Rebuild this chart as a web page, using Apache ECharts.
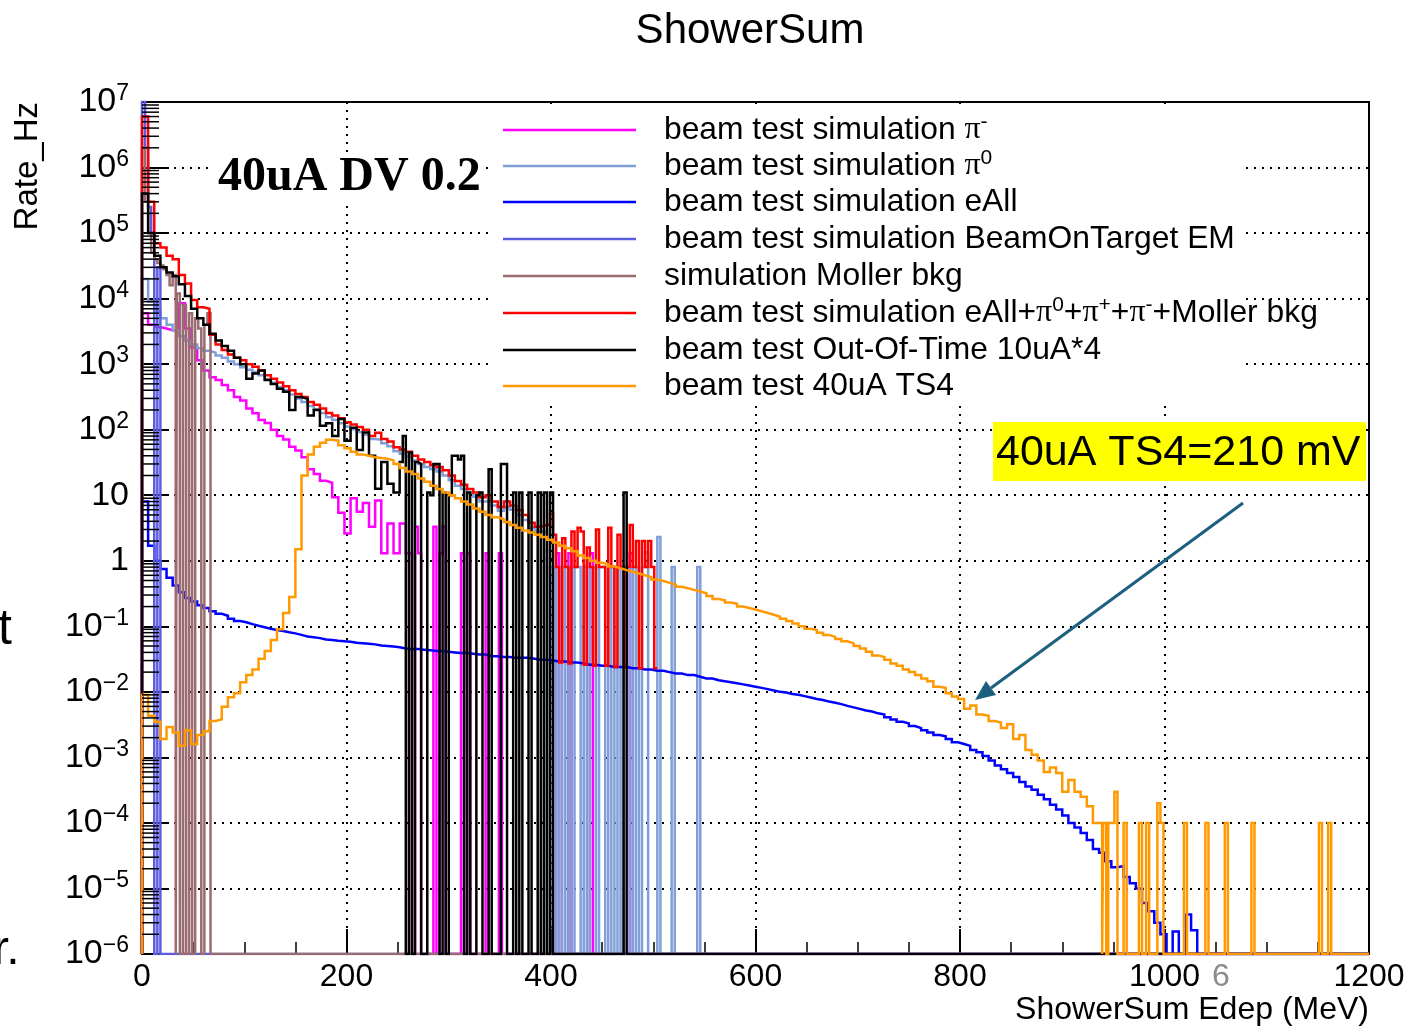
<!DOCTYPE html>
<html>
<head>
<meta charset="utf-8">
<script src="https://cdn.jsdelivr.net/npm/echarts@6/dist/echarts.min.js"></script>
<style>
  html, body { margin: 0; padding: 0; background: #ffffff; }
  #chart { width: 1408px; height: 1026px; }
</style>
</head>
<body>
<div id="chart"></div>
<script>
// ================= DATA =================
// x: ShowerSum Edep (MeV); y: Rate (Hz), log scale
const xRange = [0, 1200];
const xTickStep = 200;
const yRange = [1e-6, 1e7];

const DENSE_WIDTH = 6;   // MeV, bin width of the continuous parts
const SPARSE_WIDTH = 3;  // MeV, bin width of isolated / spiky bins

const seriesNames = [
  'beam test simulation \u03c0-',
  'beam test simulation \u03c00',
  'beam test simulation eAll',
  'beam test simulation BeamOnTarget EM',
  'simulation Moller bkg',
  'beam test simulation eAll+\u03c00+\u03c0++\u03c0-+Moller bkg',
  'beam test Out-Of-Time 10uA*4',
  'beam test 40uA TS4'
];

// pi- (dense bins from 0 MeV, then isolated bins [lowEdge, rate])
const piMinusDense = [6e3, 4e3, 3.7e3, 3.5e3, 3.3e3, 3.3e3, 8.5e3, 3.5e3, 1.8e3, 1.15e3,
  800, 630, 575, 480, 400, 316, 280, 210, 178, 141,
  126, 100, 80, 71, 55, 48, 38, 25, 21, 16.6,
  15.5, 9.3, 5.4, 2.6, 9, 5.6, 7.6, 3.3, 8.3, 1.3,
  3.7, 1.3, 3.7, 1.3];
const piMinusSparse = [[267, 3.3], [270, 1.3], [285, 3.3], [291, 1.3], [294, 3.3], [312, 1.3], [318, 1.3],
  [336, 1.3], [349, 1.3], [405, 1.3], [417, 1.3], [438, 1.3], [477, 1.3]];

// pi0
const piZeroDense = [2e4, 9e3, 6.3e3, 5e3, 4e3, 3.3e3, 2.7e3, 2.3e3, 2e3, 1.75e3,
  1.6e3, 1.5e3, 1.35e3, 1.25e3, 1.1e3, 1e3, 900, 820, 760, 680,
  590, 520, 450, 400, 345, 300, 265, 230, 205, 180,
  155, 140, 125, 112, 102, 92, 84, 72, 70, 62,
  56, 47, 43, 39, 34, 30, 27, 25, 23, 20,
  17, 14, 12.5, 11, 9.5, 8, 8, 7, 5.8, 6.6,
  6, 5, 4.2, 3.2, 2.8, 2.8];
const piZeroSparse = [[399, 0.8], [405, 0.8], [411, 0.8], [417, 0.8], [423, 0.8], [426, 0.8], [432, 0.8],
  [438, 0.8], [441, 0.8], [447, 0.8], [450, 0.8], [456, 0.8], [462, 0.8], [468, 0.8], [477, 0.8],
  [483, 0.8], [489, 0.8], [492, 1.35], [504, 2.3], [518, 0.8], [543, 0.8]];

// eAll
const eAllDense = [8, 1.7, 1.0, 0.75, 0.55, 0.42, 0.33, 0.27, 0.24, 0.21,
  0.19, 0.17, 0.155, 0.145, 0.13, 0.12, 0.115, 0.108, 0.102, 0.097,
  0.092, 0.088, 0.085, 0.081, 0.078, 0.074, 0.07, 0.068, 0.066, 0.063,
  0.062, 0.06, 0.059, 0.058, 0.056, 0.055, 0.054, 0.053, 0.051, 0.05,
  0.049, 0.048, 0.046, 0.045, 0.045, 0.044, 0.043, 0.042, 0.042, 0.041,
  0.04, 0.039, 0.039, 0.038, 0.037, 0.037, 0.035, 0.035, 0.034, 0.034,
  0.033, 0.033, 0.033, 0.032, 0.031, 0.031, 0.03, 0.029, 0.029, 0.028,
  0.028, 0.027, 0.026, 0.026, 0.025, 0.025, 0.024, 0.024, 0.024, 0.023,
  0.023, 0.022, 0.022, 0.021, 0.021, 0.02, 0.019, 0.019, 0.018, 0.018,
  0.017, 0.016, 0.016, 0.015, 0.0145, 0.014, 0.0135, 0.013, 0.0125, 0.012,
  0.0115, 0.011, 0.0105, 0.01, 0.0098, 0.0093, 0.009, 0.0086, 0.0082, 0.0078,
  0.0075, 0.0071, 0.0068, 0.0065, 0.0061, 0.0058, 0.0055, 0.0052, 0.005, 0.0047,
  0.0045, 0.0041, 0.0038, 0.0035, 0.0033, 0.003, 0.0028, 0.0026, 0.0024, 0.0022,
  0.0021, 0.0019, 0.0017, 0.0016, 0.0015, 0.0013, 0.0012, 0.00105, 0.0009, 0.00075,
  0.00066, 0.00058, 0.0005, 0.00042, 0.00036, 0.00032, 0.00027, 0.00023, 0.00019, 0.00016,
  0.00013, 0.0001, 8.5e-5, 7e-5, 5.5e-5, 4e-5, 3.5e-5, 2.6e-5, 2.1e-5, 2.2e-5,
  1.5e-5, 1.2e-5, 1e-5, 6e-6, 4.5e-6, 3e-6, 2e-6, 0, 2.2e-6, 0,
  4e-6, 2.3e-6];

// BeamOnTarget EM
const botSparse = [[0, 1.5e7], [3, 2e6], [6, 2.5e5], [9, 1e5], [15, 3e4]];

// Moller bkg
const mollerSparse = [[0, 2e6], [3, 3e5], [6, 1e5], [9, 5e4], [12, 4e4], [15, 3.5e4], [18, 3.2e4],
  [21, 2.8e4], [24, 2.3e4], [27, 1.6e4], [30, 2.3e4], [34, 1.2e4], [40, 8e3], [46, 6e3],
  [52, 5e3], [55, 3.5e3], [61, 4e3], [64, 6e3]];

// sum eAll+pi0+pi+ +pi- +Moller
const sumDense = [6e6, 3e5, 7e4, 6e4, 4.5e4, 4e4, 2.3e4, 1.7e4, 9.5e3, 7.4e3,
  7e3, 2.8e3, 2e3, 1.65e3, 1.4e3, 1.25e3, 1.15e3, 1e3, 910, 800,
  680, 600, 525, 460, 400, 350, 315, 265, 240, 210,
  180, 165, 150, 130, 120, 110, 100, 80, 90, 72,
  66, 54, 50, 46, 40, 35, 32, 29, 27, 24,
  20, 16.5, 14.5, 12.5, 11, 9.3, 10, 8, 6.6, 8,
  7, 5.9, 5, 3.8, 3.3, 3.5];
const sumSparse = [[396, 3.5], [399, 5.2], [402, 2.5], [405, 0.8], [408, 0.028], [411, 2.2], [414, 0.8],
  [417, 0.027], [420, 2.8], [423, 0.8], [426, 3.2], [429, 2.8], [432, 0.026], [435, 1.6], [438, 0.8],
  [441, 0.025], [444, 3.0], [447, 0.8], [450, 0.8], [453, 0.025], [456, 3.2], [459, 0.8], [462, 0.024],
  [465, 2.5], [468, 0.8], [471, 0.024], [474, 0.8], [477, 3.5], [480, 0.8], [483, 2.0], [486, 0.023],
  [489, 2.0], [492, 0.8], [495, 2.0], [498, 0.8], [501, 0.023]];

// Out-Of-Time 10uA*4
const ootDense = [4e5, 1e5, 4.5e4, 3e4, 2.5e4, 2.2e4, 1.65e4, 1.1e4, 7e3, 5e3,
  4e3, 2.9e3, 2.3e3, 1.9e3, 1.6e3, 1.25e3, 1e3, 600, 720, 800,
  575, 500, 420, 380, 200, 316, 295, 165, 200, 115,
  125, 80, 145, 68, 107, 49, 91, 40, 12.6, 32, 15];
const ootSparse = [[246, 11], [249, 11], [252, 32], [255, 80], [261, 45], [267, 32], [270, 30],
  [279, 11], [282, 10], [285, 30], [288, 30], [294, 11], [300, 10], [303, 40], [306, 40], [309, 35],
  [312, 40], [318, 11], [327, 10], [330, 11], [339, 25], [351, 30], [354, 30], [363, 11], [369, 11],
  [378, 11], [387, 11], [393, 11], [399, 11], [471, 11]];

// 40uA TS4
const ts4Dense = [9e-3, 4.3e-3, 3.5e-3, 1.9e-3, 2.9e-3, 2.4e-3, 1.5e-3, 2.6e-3, 1.6e-3, 2.2e-3,
  2.5e-3, 3.6e-3, 3.8e-3, 5.9e-3, 8.3e-3, 9.5e-3, 0.014, 0.018, 0.022, 0.032,
  0.042, 0.062, 0.09, 0.16, 0.28, 1.5, 20, 42, 55, 63,
  70, 68, 58, 52, 46, 42, 40, 38, 37, 36,
  34, 30, 26, 23, 21, 18, 16, 14, 12.5, 11,
  10, 9, 8, 7.2, 6.3, 5.6, 5.0, 4.6, 4.3, 3.9,
  3.5, 3.2, 2.9, 2.7, 2.5, 2.3, 2.1, 1.9, 1.7, 1.55,
  1.4, 1.2, 1.1, 1.0, 0.93, 0.88, 0.82, 0.77, 0.72, 0.68,
  0.64, 0.6, 0.56, 0.52, 0.49, 0.46, 0.43, 0.4, 0.38, 0.36,
  0.34, 0.32, 0.29, 0.26, 0.25, 0.23, 0.22, 0.2, 0.19, 0.18,
  0.17, 0.16, 0.15, 0.14, 0.13, 0.12, 0.11, 0.10, 0.092, 0.088,
  0.08, 0.074, 0.069, 0.064, 0.059, 0.055, 0.05, 0.046, 0.041, 0.036,
  0.034, 0.031, 0.027, 0.025, 0.022, 0.02, 0.018, 0.016, 0.0145, 0.012,
  0.0115, 0.0095, 0.0085, 0.0078, 0.0055, 0.0062, 0.0045, 0.0043, 0.0036, 0.0034,
  0.0028, 0.0032, 0.0019, 0.0022, 0.0013, 0.0011, 0.0009, 0.0006, 0.0007, 0.00058,
  0.0003, 0.00045, 0.0003, 0.00025, 0.00018, 0.0001];
const ts4Sparse = [[936, 1e-4], [940, 1e-4], [945, 1e-4], [948, 1e-4], [951, 3e-4], [960, 1e-4],
  [975, 1e-4], [982, 1e-4], [993, 2e-4], [996, 1e-4], [1019, 1e-4], [1040, 1e-4], [1059, 1e-4],
  [1085, 1e-4], [1151, 1e-4], [1160, 1e-4]];

// ================= helpers (turn bins into a ROOT-like outline) =================
const FLOOR = yRange[0];
function denseBins(start, width, values) {
  return values.map((v, i) => [start + i * width, start + (i + 1) * width, v]);
}
function sparseBins(width, pairs) {
  return pairs.map(p => [p[0], p[0] + width, p[1]]);
}
function stepPath(bins, dropAtEnd) {
  const b = bins.slice().sort((p, q) => p[0] - q[0]);
  const pts = [[xRange[0], FLOOR]];
  let prevHi = xRange[0];
  b.forEach(([lo, hi, v0]) => {
    const v = v0 > FLOOR ? v0 : FLOOR;
    if (lo > prevHi + 1e-9) { pts.push([prevHi, FLOOR]); pts.push([lo, FLOOR]); }
    pts.push([lo, v]); pts.push([hi, v]);
    prevHi = hi;
  });
  if (dropAtEnd) { pts.push([prevHi, FLOOR]); pts.push([xRange[1], FLOOR]); }
  return pts;
}

const colors = ['#ff00ff', '#7f9fd8', '#0000ff', '#5c5ce0', '#9a6b70', '#ff0000', '#000000', '#ff9900'];
const paths = [
  stepPath(denseBins(0, DENSE_WIDTH, piMinusDense).concat(sparseBins(SPARSE_WIDTH, piMinusSparse)), true),
  stepPath(denseBins(0, DENSE_WIDTH, piZeroDense).concat(sparseBins(SPARSE_WIDTH, piZeroSparse)), true),
  stepPath(denseBins(0, DENSE_WIDTH, eAllDense), true),
  stepPath(sparseBins(SPARSE_WIDTH, botSparse), true),
  stepPath(sparseBins(SPARSE_WIDTH, mollerSparse), true),
  stepPath(denseBins(0, DENSE_WIDTH, sumDense).concat(sparseBins(SPARSE_WIDTH, sumSparse)), false),
  stepPath(denseBins(0, DENSE_WIDTH, ootDense).concat(sparseBins(SPARSE_WIDTH, ootSparse)), true),
  stepPath(denseBins(0, DENSE_WIDTH, ts4Dense).concat(sparseBins(SPARSE_WIDTH, ts4Sparse)), true)
];

// log-axis minor tick values (2..9 x 10^n), ROOT style
const minorTickValues = [];
for (let e = -6; e < 7; e++) for (let k = 2; k <= 9; k++) minorTickValues.push(k * Math.pow(10, e));

const SANS = '"Liberation Sans", Arial, Helvetica, sans-serif';
const SERIF = '"Liberation Serif", "Times New Roman", serif';

// ================= chart =================
const chart = echarts.init(document.getElementById('chart'), null, { renderer: 'canvas' });

const series = paths.map((p, i) => ({
  type: 'line',
  name: seriesNames[i],
  data: p,
  showSymbol: false,
  symbol: 'none',
  clip: true,
  animation: false,
  z: 2,
  lineStyle: { color: colors[i], width: 2.5, join: 'miter', cap: 'butt' }
}));
series.push({
  type: 'custom',
  name: 'minorTicks',
  coordinateSystem: 'cartesian2d',
  silent: true,
  clip: false,
  z: 5,
  animation: false,
  data: minorTickValues.map(v => [xRange[0], v]),
  renderItem: function (params, api) {
    const p = api.coord([api.value(0), api.value(1)]);
    return { type: 'line', shape: { x1: p[0], y1: p[1], x2: p[0] + 17, y2: p[1] },
             style: { stroke: '#000', lineWidth: 1.5 } };
  }
});

// legend built as graphic elements
const legendRows = [
  '{n|beam test simulation }{p|\u03c0}{u|-}',
  '{n|beam test simulation }{p|\u03c0}{u|0}',
  '{n|beam test simulation eAll}',
  '{n|beam test simulation BeamOnTarget EM}',
  '{n|simulation Moller bkg}',
  '{n|beam test simulation eAll+}{p|\u03c0}{u|0}{n|+}{p|\u03c0}{u|+}{n|+}{p|\u03c0}{u|-}{n|+Moller bkg}',
  '{n|beam test Out-Of-Time 10uA*4}',
  '{n|beam test 40uA TS4}'
];
const legendY = [130, 166, 202, 239, 276, 313, 350, 386];
const legendRich = {
  n: { fontSize: 31.8, fontFamily: SANS, fill: '#000' },
  p: { fontSize: 32, fontFamily: SERIF, fill: '#000' },
  u: { fontSize: 21, fontFamily: SANS, fill: '#000', padding: [0, 0, 16, 0] }
};
const graphics = [];
graphics.push({ type: 'rect', shape: { x: 490, y: 104, width: 755, height: 301 }, style: { fill: '#fff' }, z: 20 });
legendRows.forEach((t, i) => {
  graphics.push({ type: 'line', shape: { x1: 503, y1: legendY[i], x2: 636, y2: legendY[i] },
                  style: { stroke: colors[i], lineWidth: 2.5 }, z: 21 });
  graphics.push({ type: 'text', x: 664, y: legendY[i], z: 21,
                  style: { text: t, rich: legendRich, align: 'left', verticalAlign: 'middle', fill: '#000' } });
});
// title
graphics.push({ type: 'text', x: 750, y: 31, z: 21,
  style: { text: 'ShowerSum', fontSize: 42, fontFamily: SANS, fill: '#000', align: 'center', verticalAlign: 'middle' } });
// y axis title
graphics.push({ type: 'text', x: 28, y: 102, rotation: Math.PI / 2, z: 21,
  style: { text: 'Rate_Hz', fontSize: 33, fontFamily: SANS, fill: '#000', align: 'right', verticalAlign: 'middle' } });
// in-plot label
graphics.push({ type: 'rect', shape: { x: 214, y: 156, width: 268, height: 44 }, style: { fill: '#fff' }, z: 20 });
graphics.push({ type: 'text', x: 218, y: 178, z: 21,
  style: { text: '40uA DV 0.2', fontSize: 48, fontWeight: 'bold', fontFamily: SERIF, fill: '#000', align: 'left', verticalAlign: 'middle' } });
// annotation
graphics.push({ type: 'rect', shape: { x: 993, y: 422, width: 373, height: 59 }, style: { fill: '#ffff00' }, z: 30 });
graphics.push({ type: 'text', x: 996, y: 453, z: 31,
  style: { text: '40uA TS4=210 mV', fontSize: 43, fontFamily: SANS, fill: '#000', align: 'left', verticalAlign: 'middle' } });
graphics.push({ type: 'line', shape: { x1: 1243, y1: 503, x2: 991, y2: 688 }, style: { stroke: '#1d5f7f', lineWidth: 3 }, z: 31 });
graphics.push({ type: 'polygon', shape: { points: [[975, 700], [996, 695], [986, 681]] }, style: { fill: '#1d5f7f' }, z: 31 });
// stray slide text
graphics.push({ type: 'text', x: 1212, y: 977, z: 31,
  style: { text: '6', fontSize: 32, fontFamily: SANS, fill: '#8c8c8c', align: 'left', verticalAlign: 'middle' } });
graphics.push({ type: 'text', x: -2, y: 630, z: 31,
  style: { text: 't', fontSize: 50, fontFamily: SANS, fill: '#000', align: 'left', verticalAlign: 'middle' } });
graphics.push({ type: 'text', x: -7, y: 951, z: 31,
  style: { text: 'r.', fontSize: 48, fontFamily: SANS, fill: '#000', align: 'left', verticalAlign: 'middle' } });

const option = {
  animation: false,
  backgroundColor: '#ffffff',
  textStyle: { fontFamily: SANS },
  grid: { left: 142, top: 102, width: 1227, height: 852, show: true, borderColor: '#000', borderWidth: 2,
          backgroundColor: 'transparent', containLabel: false },
  xAxis: {
    type: 'value', min: xRange[0], max: xRange[1], interval: xTickStep,
    name: 'ShowerSum Edep (MeV)', nameLocation: 'end', nameGap: 0,
    nameTextStyle: { fontSize: 32, fontFamily: SANS, color: '#000', align: 'right', verticalAlign: 'top', padding: [40, 0, 0, 0] },
    axisLine: { show: true, onZero: false, lineStyle: { color: '#000', width: 2 } },
    axisTick: { show: true, inside: true, length: 25, lineStyle: { color: '#000', width: 2 } },
    minorTick: { show: true, splitNumber: 4, length: 12, lineStyle: { color: '#000', width: 1.5 } },
    axisLabel: { show: true, color: '#000', fontSize: 32, fontFamily: SANS, margin: 7, showMinLabel: true, showMaxLabel: true,
                 formatter: function (v) { return String(v); } },
    splitLine: { show: true, lineStyle: { color: '#000', width: 2, type: [2, 6] } }
  },
  yAxis: {
    type: 'log', logBase: 10, min: yRange[0], max: yRange[1], interval: 1, splitNumber: 13,
    axisLine: { show: true, onZero: false, lineStyle: { color: '#000', width: 2 } },
    axisTick: { show: true, inside: true, length: 27, lineStyle: { color: '#000', width: 2 } },
    minorTick: { show: false },
    axisLabel: {
      show: true, interval: 0, margin: 13, color: '#000',
      formatter: function (v) {
        const e = Math.round(Math.log10(v));
        if (e === 0) return '{b|1}';
        if (e === 1) return '{b|10}';
        return '{b|10}{s|' + (e < 0 ? '\u2212' : '') + Math.abs(e) + '}';
      },
      rich: {
        b: { fontSize: 34, fontFamily: SANS, color: '#000' },
        s: { fontSize: 23, fontFamily: SANS, color: '#000', padding: [0, 0, 16, 0] }
      }
    },
    splitLine: { show: true, lineStyle: { color: '#000', width: 2, type: [2, 6] } }
  },
  series: series,
  graphic: { elements: graphics }
};
chart.setOption(option);
</script>
</body>
</html>
